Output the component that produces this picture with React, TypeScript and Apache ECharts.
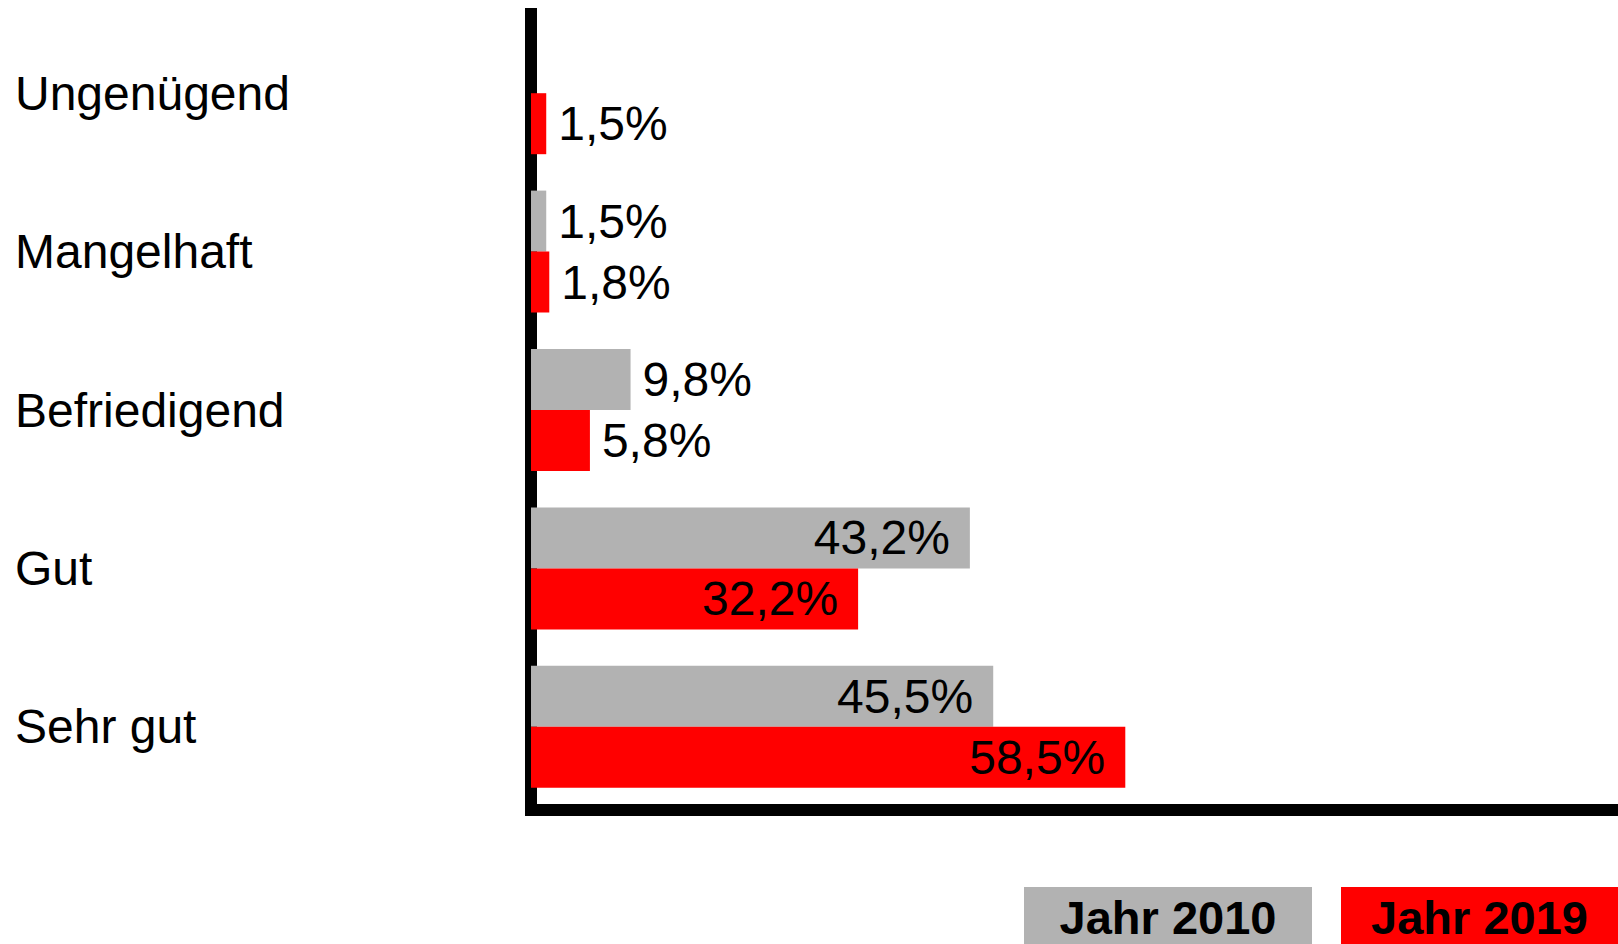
import React, { useEffect, useRef } from "react";
import * as echarts from "echarts";

const categories = ["Ungenügend", "Mangelhaft", "Befriedigend", "Gut", "Sehr gut"];
const seriesNames = ["Jahr 2010", "Jahr 2019"];
const values2010: (number | null)[] = [null, 1.5, 9.8, 43.2, 45.5];
const values2019: number[] = [1.5, 1.8, 5.8, 32.2, 58.5];
const colors = ["#b2b2b2", "#ff0000"];

const FONT = "'Liberation Sans', Arial, Helvetica, sans-serif";

const fmt = (v: number) => v.toFixed(1).replace(".", ",") + "%";

function buildData(vals: (number | null)[]) {
  return vals.map((v) =>
    v == null
      ? "-"
      : {
          value: v,
          label: {
            position: v >= 20 ? "insideRight" : "right",
            distance: v >= 20 ? 20 : 12,
          },
        }
  );
}

export default function App() {
  const ref = useRef<HTMLDivElement>(null);

  useEffect(() => {
    if (!ref.current) return;
    const chart = echarts.init(ref.current, null, { renderer: "svg" });
    const labelCommon = {
      show: true,
      color: "#000",
      fontSize: 48,
      fontFamily: FONT,
      formatter: (p: any) => fmt(p.value),
    };
    const legendBox = (bg: string, w: number) => ({
      backgroundColor: bg,
      width: w,
      height: 53,
      lineHeight: 53,
      padding: [4, 0, 0, 0],
      align: "center",
      fontSize: 47,
      fontWeight: "bold",
      color: "#000",
      fontFamily: FONT,
    });
    chart.setOption({
      animation: false,
      backgroundColor: "#ffffff",
      textStyle: { fontFamily: FONT },
      grid: { left: 531, top: 14, right: 0, height: 792, containLabel: false },
      xAxis: {
        type: "value",
        min: 0,
        max: 107,
        offset: 4,
        axisLine: { show: true, lineStyle: { color: "#000", width: 12, cap: "square" } },
        axisTick: { show: false },
        axisLabel: { show: false },
        splitLine: { show: false },
      },
      yAxis: {
        type: "category",
        data: categories,
        inverse: true,
        offset: 6,
        axisLine: { show: true, lineStyle: { color: "#000", width: 12, cap: "square" } },
        axisTick: { show: false },
        axisLabel: {
          color: "#000",
          fontSize: 48,
          fontFamily: FONT,
          align: "left",
          margin: 510,
        },
      },
      legend: {
        data: seriesNames,
        left: 1019,
        top: 887,
        padding: 0,
        itemGap: 24,
        itemWidth: 0,
        itemHeight: 0,
        icon: "rect",
        selectedMode: false,
        formatter: (name: string) =>
          name === seriesNames[0] ? `{a|${name}}` : `{b|${name}}`,
        textStyle: {
          rich: {
            a: legendBox(colors[0], 288),
            b: legendBox(colors[1], 277),
          },
        },
      },
      series: [
        {
          name: seriesNames[0],
          type: "bar",
          barWidth: 61,
          barGap: "0%",
          itemStyle: { color: colors[0] },
          label: labelCommon,
          data: buildData(values2010),
        },
        {
          name: seriesNames[1],
          type: "bar",
          barWidth: 61,
          barGap: "0%",
          itemStyle: { color: colors[1] },
          label: labelCommon,
          data: buildData(values2019),
        },
      ],
    });
    return () => chart.dispose();
  }, []);

  return (
    <div
      ref={ref}
      style={{ position: "absolute", left: 0, top: 0, width: 1618, height: 944 }}
    />
  );
}
